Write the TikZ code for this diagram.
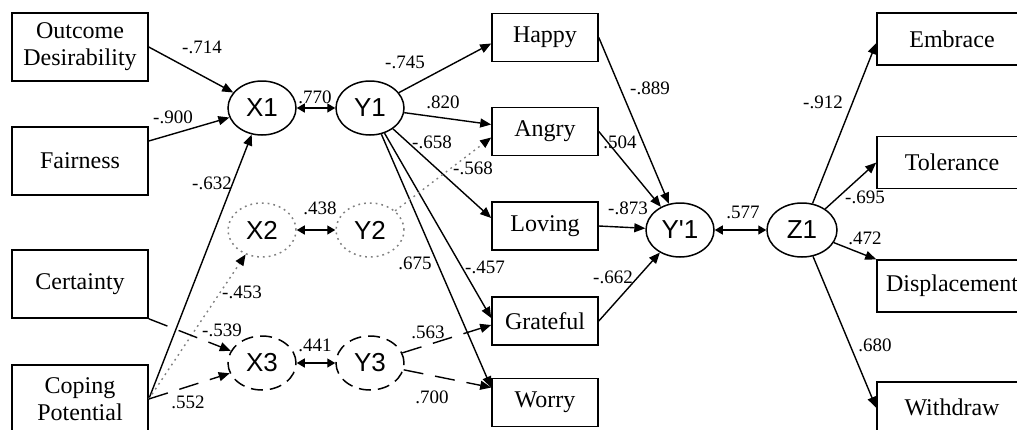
\documentclass[tikz,border=0pt]{standalone}
\usepackage{fontspec}
\setmainfont{Liberation Serif}
\newfontfamily\helv{Liberation Sans}
\usetikzlibrary{shapes.geometric}
\usetikzlibrary{arrows.meta}
\usetikzlibrary{positioning}
\newcommand{\boxfont}{\fontsize{12}{13.5}\selectfont}
\tikzstyle{appraisal} = [draw=black, line width=0.8pt, minimum width=68pt, minimum height=34pt, align=center, inner sep=1pt, font=\boxfont]
\tikzstyle{emotion} = [draw=black, line width=0.8pt, minimum width=53pt, minimum height=24pt, inner sep=1pt, font=\boxfont]
\tikzstyle{coping} = [draw=black, line width=0.8pt, minimum width=75pt, minimum height=26pt, inner sep=1pt, font=\boxfont]
\tikzstyle{factor} = [ellipse, draw=black, line width=0.75pt, minimum width=34pt, minimum height=27pt, inner sep=0pt, font=\helv\fontsize{13}{14}\selectfont]
\tikzstyle{dotfactor} = [factor, draw=gray, dash pattern=on 0.9pt off 2pt]
\tikzstyle{dashfactor} = [factor, dash pattern=on 6pt off 3.5pt]
\tikzstyle{link} = [-{Triangle[length=5.5pt,width=4.5pt,color=black]}, line width=0.7pt]
\tikzstyle{dotlink} = [link, draw=gray, dash pattern=on 0.9pt off 2pt]
\tikzstyle{dashlink} = [link, dash pattern=on 10pt off 6pt]
\tikzstyle{cov} = [{Triangle[length=4pt,width=4.5pt]}-{Triangle[length=4pt,width=4.5pt]}, line width=0.7pt]
\tikzstyle{coef} = [font=\fontsize{9.5}{10}\selectfont, inner sep=0pt]

\begin{document}
\begin{tikzpicture}[x=0.5pt, y=-0.5pt]

		\useasboundingbox (0,0) rectangle (1017,429);

		\node (od) [appraisal] at (80,47) {Outcome\\Desirability};
		\node (fa) [appraisal] at (80,161) {Fairness};
		\node (ce) [appraisal] at (80,284) {Certainty};
		\node (cp) [appraisal] at (80,399) {Coping\\Potential};

		\node (x1) [factor] at (262,108) {X1};
		\node (y1) [factor] at (370,108) {Y1};
		\node (x2) [dotfactor] at (262,230) {X2};
		\node (y2) [dotfactor] at (370,230) {Y2};
		\node (x3) [dashfactor] at (262,363) {X3};
		\node (y3) [dashfactor] at (370,363) {Y3};

		\node (hp) [emotion] at (545,37.5) {Happy};
		\node (an) [emotion] at (545,131.5) {Angry};
		\node (lo) [emotion] at (545,226) {Loving};
		\node (gr) [emotion] at (545,321) {Grateful};
		\node (wo) [emotion] at (545,402.5) {Worry};

		\node (yp) [factor] at (680,230) {Y'1};
		\node (z1) [factor, minimum width=35pt] at (802,230) {Z1};

		\node (em) [coping] at (952,39) {Embrace};
		\node (to) [coping, below=35pt of em] {Tolerance};
		\node (di) [coping, below=35pt of to] {Displacement};
		\node (wd) [coping, below=34pt of di] {Withdraw};

		\draw [link] (od.east) -- (x1);
		\draw [link] ([yshift=10pt]fa.east) -- (x1);
		\draw [link] (cp.east) -- (x1);
		\draw [dotlink] (cp.east) -- (x2);
		\draw [dashlink] (cp.east) -- (x3);
		\draw [dashlink] (ce.south east) -- (x3);

		\draw [cov] (x1) -- (y1);
		\draw [cov] (x2) -- (y2);
		\draw [cov] (x3) -- (y3);

		\draw [link] (y1) -- ([yshift=-3pt]hp.west);
		\draw [link] (y1) -- ([yshift=3.5pt]an.west);
		\draw [link] (y1) -- ([yshift=4pt]lo.west);
		\draw [link] (y1) -- ([yshift=1.5pt]gr.west);
		\draw [link] (y1) -- ([yshift=7.5pt]wo.west);
		\draw [dotlink] (y2) -- ([yshift=-3pt]an.west);
		\draw [dashlink] (y3) -- ([yshift=-2pt]gr.west);
		\draw [dashlink] (y3) -- ([yshift=7.5pt]wo.west);

		\draw [link] (hp.east) -- (yp);
		\draw [link] (an.east) -- (yp);
		\draw [link] (lo.east) -- (yp);
		\draw [link] (gr.east) -- (yp);

		\draw [cov] (yp) -- (z1);

		\draw [link] (z1) -- ([yshift=-2pt]em.west);
		\draw [link] (z1) -- (to.west);
		\draw [link] (z1) -- (di.north west);
		\draw [link] (z1) -- (wd.west);

		\node (c714) [coef] at (202,47) {-.714};
		\node (c900) [coef] at (173,117) {-.900};
		\node (c632) [coef] at (212,183) {-.632};
		\node (c770) [coef] at (315,97) {.770};
		\node (c438) [coef] at (320,208) {.438};
		\node (c453) [coef] at (242,292) {-.453};
		\node (c539) [coef] at (222,330) {-.539};
		\node (c552) [coef] at (188,402) {.552};
		\node (c441) [coef] at (315,345) {.441};
		\node (c745) [coef] at (405,62) {-.745};
		\node (c820) [coef] at (443,102) {.820};
		\node (c658) [coef] at (432,142) {-.658};
		\node (c568) [coef] at (473,168) {-.568};
		\node (c675) [coef] at (415,263) {.675};
		\node (c457) [coef] at (485,267) {-.457};
		\node (c563) [coef] at (428,332) {.563};
		\node (c700) [coef] at (432,397) {.700};
		\node (c889) [coef] at (650,88) {-.889};
		\node (c504) [coef] at (620,142) {.504};
		\node (c873) [coef] at (628,208) {-.873};
		\node (c662) [coef] at (613,277) {-.662};
		\node (c577) [coef] at (743,212) {.577};
		\node (c912) [coef] at (823,102) {-.912};
		\node (c695) [coef] at (865,197) {-.695};
		\node (c472) [coef] at (865,238) {.472};
		\node (c680) [coef] at (875,345) {.680};

	\end{tikzpicture}
\end{document}
